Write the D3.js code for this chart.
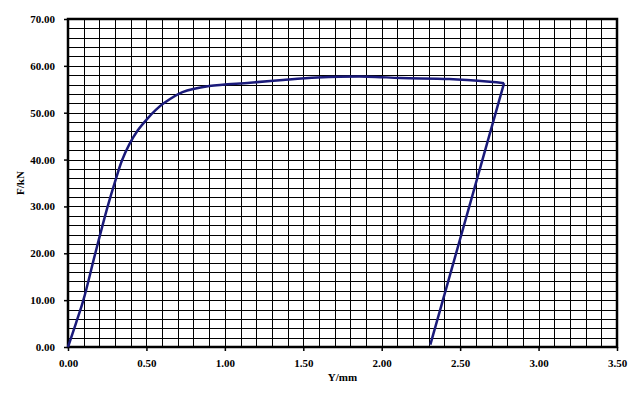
<!DOCTYPE html>
<html>
<head>
<meta charset="utf-8">
<script src="https://cdn.jsdelivr.net/npm/d3@7"></script>
<style>
  body { margin: 0; background: #fff; }
  text { font-family: "Liberation Serif", "DejaVu Serif", serif; font-weight: bold; }
</style>
</head>
<body>
<div id="chart"></div>
<script>
// load-displacement curve
const dispValues = [0, 0.05, 0.098, 0.174, 0.253, 0.30, 0.344, 0.39, 0.444, 0.508, 0.56, 0.61, 0.73, 0.90,
  1.16, 1.37, 1.59, 1.91, 2.12, 2.43, 2.69, 2.78, 2.31];
const forceValues = [0, 5, 10, 20, 30, 35.3, 39.8, 43.2, 46.2, 48.8, 50.6, 52, 54.4, 55.7,
  56.4, 57.0, 57.5, 57.7, 57.4, 57.2, 56.6, 56.3, 0.5];
const xTicks = [0, 0.5, 1.0, 1.5, 2.0, 2.5, 3.0, 3.5];
const yTicks = [0, 10, 20, 30, 40, 50, 60, 70];
const xLabel = "Y/mm";
const yLabel = "F/kN";

function drawChart() {
    const data = dispValues.map((d, i) => ({ x: d, y: forceValues[i] }));

    const width = 643, height = 398;
    const margin = { top: 19, right: 26, bottom: 51, left: 68 };
    const w = width - margin.left - margin.right;
    const h = height - margin.top - margin.bottom;

    const svg = d3.select("#chart")
        .append("svg")
        .attr("width", width)
        .attr("height", height);

    const g = svg.append("g")
        .attr("transform", `translate(${margin.left},${margin.top})`);

    const x = d3.scaleLinear().domain([0, 3.5]).range([0, w]);
    const y = d3.scaleLinear().domain([0, 70]).range([h, 0]);

    // minor grid every 0.1 mm and every 2 kN
    g.append("g")
        .selectAll("line")
        .data(d3.range(1, 35).map(i => i / 10))
        .enter().append("line")
        .attr("x1", d => Math.round(x(d)) + 0.5)
        .attr("x2", d => Math.round(x(d)) + 0.5)
        .attr("y1", 0).attr("y2", h)
        .attr("stroke", "#000").attr("stroke-width", 1);

    g.append("g")
        .selectAll("line")
        .data(d3.range(1, 35).map(i => i * 2))
        .enter().append("line")
        .attr("y1", d => Math.round(y(d)) + 0.5)
        .attr("y2", d => Math.round(y(d)) + 0.5)
        .attr("x1", 0).attr("x2", w)
        .attr("stroke", "#000").attr("stroke-width", 1);

    // frame
    g.append("rect")
        .attr("x", 0).attr("y", 0)
        .attr("width", w).attr("height", h)
        .attr("fill", "none")
        .attr("stroke", "#000")
        .attr("stroke-width", 2.5);

    const xAxis = g.append("g")
        .attr("transform", `translate(0,${h})`)
        .call(d3.axisBottom(x).tickValues(xTicks).tickSize(4).tickPadding(8).tickFormat(d3.format(".2f")));
    const yAxis = g.append("g")
        .call(d3.axisLeft(y).tickValues(yTicks).tickSize(4).tickPadding(9).tickFormat(d3.format(".2f")));

    [xAxis, yAxis].forEach(a => {
        a.select(".domain").remove();
        a.selectAll(".tick line").attr("stroke", "#000").attr("stroke-width", 1.5);
        a.selectAll("text")
            .attr("fill", "#000")
            .style("font-size", "11px")
            .style("font-family", "'Liberation Serif', serif")
            .style("font-weight", "bold");
    });

    // loading branch, smooth
    const line = d3.line()
        .x(d => x(d.x))
        .y(d => y(d.y))
        .curve(d3.curveCatmullRom.alpha(0.5));

    g.append("path")
        .datum(data.slice(0, data.length - 1))
        .attr("fill", "none")
        .attr("stroke", "#1a1a7a")
        .attr("stroke-width", 2.5)
        .attr("d", line);

    // unloading branch is straight
    g.append("path")
        .datum(data.slice(data.length - 2))
        .attr("fill", "none")
        .attr("stroke", "#1a1a7a")
        .attr("stroke-width", 2.5)
        .attr("d", d3.line().x(d => x(d.x)).y(d => y(d.y)));

    svg.append("text")
        .attr("x", margin.left + w / 2)
        .attr("y", 381)
        .attr("text-anchor", "middle")
        .style("font-size", "11px")
        .text(xLabel);

    svg.append("text")
        .attr("transform", `translate(24,${margin.top + h / 2}) rotate(-90)`)
        .attr("text-anchor", "middle")
        .style("font-size", "11px")
        .text(yLabel);
}

drawChart();
</script>
</body>
</html>
